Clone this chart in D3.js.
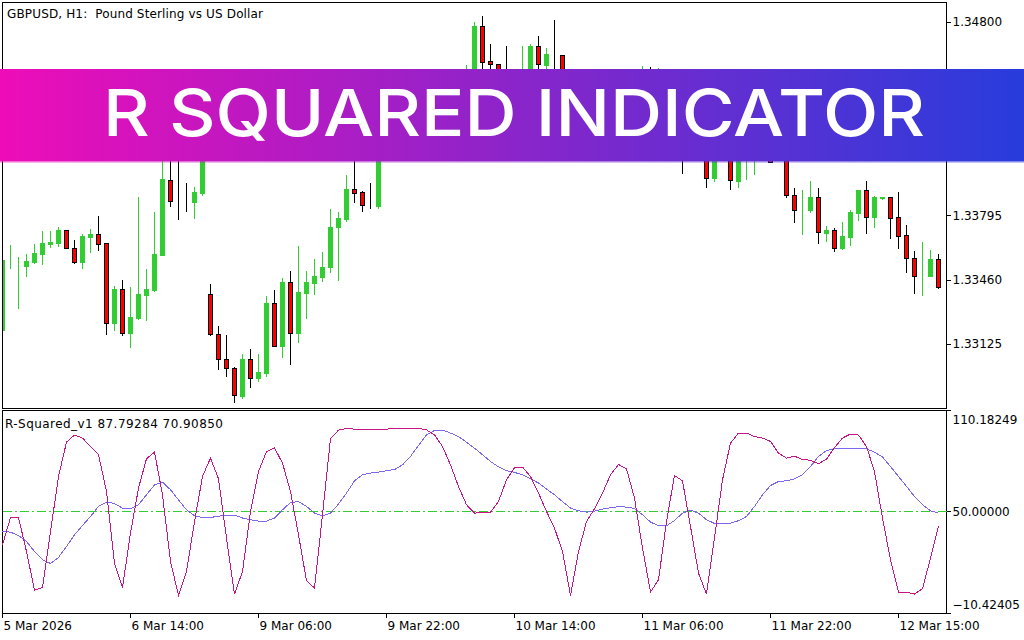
<!DOCTYPE html>
<html>
<head>
<meta charset="utf-8">
<title>R Squared Indicator</title>
<script src="https://cdnjs.cloudflare.com/ajax/libs/d3/7.8.5/d3.min.js"></script>
<style>
	html, body { margin: 0; padding: 0; background: #fff; overflow: hidden; }
	svg { display: block; }
	text { font-family: "DejaVu Sans", sans-serif; font-size: 12px; fill: #000; white-space: pre; }
	.axis path, .axis line { stroke: #000; shape-rendering: crispEdges; }
</style>
</head>
<body>
<svg id="chart" width="1024" height="640"></svg>
<script>
// hourly candles, bars hidden behind the banner are estimated
const opens = [1.33198,1.33557,1.33536,1.33531,1.33552,1.33594,1.33646,1.33651,1.33718,1.33625,1.33552,1.33682,1.33698,1.33651,1.33235,1.33412,1.33183,1.33261,1.33380,1.33406,1.33588,1.33978,1.33869,1.33869,1.33864,1.33911,1.33386,1.33178,1.33048,1.33001,1.32855,1.33048,1.32949,1.32975,1.33339,1.33115,1.33448,1.33183,1.33391,1.33443,1.33474,1.33526,1.33734,1.33776,1.33932,1.33916,1.33848,1.33843,1.34186,1.34290,1.34212,1.34368,1.34301,1.34394,1.34436,1.34342,1.34420,1.34467,1.34394,1.34498,1.34779,1.34597,1.34582,1.34446,1.34394,1.34472,1.34540,1.34675,1.34576,1.34628,1.34628,1.34446,1.34368,1.34420,1.34301,1.34238,1.34332,1.34394,1.34332,1.34415,1.34467,1.34509,1.34436,1.34498,1.34415,1.34301,1.34186,1.34249,1.34316,1.33989,1.34238,1.34134,1.33973,1.34134,1.34134,1.34238,1.34160,1.34093,1.34238,1.33900,1.33828,1.33822,1.33890,1.33703,1.33718,1.33625,1.33682,1.33807,1.33926,1.33786,1.33885,1.33890,1.33786,1.33692,1.33573,1.33484,1.33479,1.33568];
const highs = [1.33562,1.33646,1.33583,1.33599,1.33651,1.33718,1.33718,1.33739,1.33724,1.33672,1.33703,1.33729,1.33796,1.33651,1.33432,1.33464,1.33427,1.33895,1.33521,1.33817,1.34238,1.34134,1.34108,1.33968,1.33947,1.34368,1.33443,1.33224,1.33178,1.33011,1.33079,1.33105,1.33079,1.33380,1.33412,1.33474,1.33510,1.33640,1.33510,1.33573,1.33609,1.33833,1.33817,1.34010,1.34134,1.33926,1.33968,1.34249,1.34342,1.34332,1.34415,1.34405,1.34446,1.34488,1.34472,1.34457,1.34519,1.34509,1.34582,1.34805,1.34836,1.34691,1.34582,1.34680,1.34524,1.34680,1.34691,1.34732,1.34670,1.34816,1.34634,1.34477,1.34457,1.34446,1.34342,1.34374,1.34436,1.34420,1.34457,1.34519,1.34576,1.34571,1.34566,1.34540,1.34446,1.34332,1.34290,1.34353,1.34353,1.34280,1.34264,1.34186,1.34212,1.34264,1.34290,1.34280,1.34212,1.34290,1.34290,1.33942,1.33932,1.33978,1.33942,1.33744,1.33734,1.33765,1.33828,1.33926,1.33978,1.33900,1.33890,1.33890,1.33921,1.33750,1.33614,1.33661,1.33620,1.33599];
const lows = [1.33198,1.33521,1.33313,1.33479,1.33547,1.33542,1.33630,1.33635,1.33625,1.33547,1.33521,1.33604,1.33614,1.33178,1.33198,1.33172,1.33110,1.33256,1.33250,1.33401,1.33588,1.33843,1.33776,1.33817,1.33781,1.33900,1.33172,1.32996,1.32959,1.32824,1.32845,1.32902,1.32933,1.32959,1.33115,1.33058,1.33022,1.33136,1.33261,1.33386,1.33453,1.33500,1.33458,1.33765,1.33864,1.33817,1.33833,1.33833,1.34145,1.34176,1.34186,1.34249,1.34264,1.34353,1.34301,1.34316,1.34374,1.34353,1.34368,1.34457,1.34472,1.34472,1.34394,1.34342,1.34353,1.34436,1.34509,1.34498,1.34457,1.34472,1.34405,1.34332,1.34316,1.34264,1.34186,1.34207,1.34301,1.34290,1.34311,1.34384,1.34436,1.34394,1.34405,1.34374,1.34249,1.34015,1.34145,1.34212,1.33942,1.33973,1.34108,1.33932,1.33942,1.33984,1.34010,1.34093,1.34072,1.34082,1.33890,1.33760,1.33698,1.33812,1.33651,1.33661,1.33609,1.33620,1.33640,1.33770,1.33703,1.33734,1.33880,1.33677,1.33625,1.33500,1.33391,1.33380,1.33479,1.33417];
const closes = [1.33562,1.33558,1.33537,1.33557,1.33599,1.33651,1.33656,1.33718,1.33625,1.33552,1.33687,1.33698,1.33646,1.33235,1.33412,1.33183,1.33266,1.33386,1.33412,1.33594,1.33984,1.33869,1.33868,1.33868,1.33916,1.34290,1.33178,1.33048,1.33001,1.32860,1.33048,1.32949,1.32980,1.33339,1.33115,1.33448,1.33183,1.33396,1.33448,1.33479,1.33526,1.33734,1.33781,1.33932,1.33911,1.33848,1.33847,1.34186,1.34290,1.34212,1.34368,1.34301,1.34394,1.34436,1.34342,1.34420,1.34467,1.34394,1.34498,1.34779,1.34592,1.34582,1.34446,1.34394,1.34472,1.34540,1.34675,1.34582,1.34634,1.34627,1.34446,1.34368,1.34420,1.34301,1.34238,1.34332,1.34394,1.34332,1.34415,1.34467,1.34509,1.34436,1.34498,1.34415,1.34301,1.34186,1.34249,1.34316,1.33989,1.34238,1.34134,1.33978,1.34160,1.34212,1.34238,1.34134,1.34072,1.34238,1.33900,1.33822,1.33829,1.33890,1.33708,1.33718,1.33625,1.33687,1.33812,1.33926,1.33786,1.33890,1.33890,1.33781,1.33687,1.33573,1.33479,1.33485,1.33568,1.33422];

const rSquared = [30.1,46.3,46.3,26.1,3.2,4.7,37.8,70.7,91.1,95.3,93.5,88.5,83.6,61.8,19.2,4.7,37,63.8,81.2,85.2,59.8,20.2,0,14.2,43.9,70.7,81.6,69.3,34.1,0.8,14.2,49.9,73.6,85.5,87.7,78.6,61.8,36,8.7,4.4,47.9,93.1,98.2,99.2,98.8,98.8,98.8,98.8,98.8,99.2,99.2,99.2,99.2,98.4,95.4,88.5,77.6,64.7,53.9,48.9,49.5,49.5,55.8,68.7,75.8,76.3,70.7,60.8,49.9,40,26.1,0,26.1,43.9,51.5,60.8,71.7,77.8,75.2,57.8,28.1,2,9.3,43.9,71.3,68.1,41,13.3,0.8,34.1,68.7,90.5,96.5,96.5,94.4,93.5,91.5,84.6,81.6,82.8,80.6,80.4,78.2,81,87.9,93.5,95.9,95.3,88.5,73.6,46,21.2,2,2,0.8,4,22.2,41];
const signal = [38,37.6,35.6,32.1,26.1,21.2,19,22.6,29.1,36,41.6,46.9,52.9,55.5,54.6,51.9,51.5,53.9,59.8,65.7,67.3,62.8,56.8,50.9,47.3,46.3,46.3,47.1,47.7,47.7,46,45,44.2,44.2,46,50.9,55.2,55.8,52.9,48.9,47.3,48.9,54.3,60.8,68.1,71.7,72.7,73.3,74.1,74.8,77.6,82.6,89.1,95.4,98,98.2,96.5,94.4,91.1,87.5,83.6,79.6,76.4,74.2,73.1,71.7,69.3,66.8,63.2,59.8,55.8,51.9,50.3,49.5,50.1,51.3,52.1,52.7,52.5,51.7,47.9,43.6,41.4,41.4,44.5,48.9,50.7,48.9,45,42.8,42.6,43,44.4,46.9,52.9,59.8,65.3,67.7,68.1,69.3,71.7,76.6,82.6,86.1,87.1,87.1,87.1,87.1,87.1,85.2,82.2,76.6,70.7,64.8,58.8,53.9,50.3,48.9];

const priceTicks = [1.348, 1.34465, 1.3413, 1.33795, 1.3346, 1.33125];
const indicatorTicks = [110.18249, 50, -10.42405];
const timeBars = [0, 16, 32, 48, 64, 80, 96, 112];
const timeLabels = ["5 Mar 2026", "6 Mar 14:00", "9 Mar 06:00", "9 Mar 22:00", "10 Mar 14:00", "11 Mar 06:00", "11 Mar 22:00", "12 Mar 15:00"];

const width = 1024,
	frameLeft = 2.5,
	frameRight = 946.5,
	mainTop = 2.5,
	mainBottom = 408.5,
	subTop = 410.5,
	subBottom = 613.5;

const svg = d3.select("#chart");

const xScale = d3.scaleLinear().domain([0, 117]).range([2.5, 938.5]);
const priceScale = d3.scaleLinear().domain([1.32792, 1.34904]).range([408, 2]);
const indicatorScale = d3.scaleLinear().domain([-10.42405, 110.18249]).range([613, 410]);

const crisp = (v) => Math.round(v) + 0.5;

// clip so the first candle is cut at the frame, like the terminal does
svg.append("defs")
	.append("clipPath")
	.attr("id", "mainClip")
	.append("rect")
	.attr("x", frameLeft)
	.attr("y", mainTop)
	.attr("width", frameRight - frameLeft)
	.attr("height", mainBottom - mainTop);

// candles
const candles = svg.append("g").attr("clip-path", "url(#mainClip)").attr("shape-rendering", "crispEdges");

opens.forEach((open, i) => {
	const close = closes[i];
	const bull = close > open;
	const x = xScale(i);
	const top = crisp(priceScale(Math.max(open, close)));
	const bottom = crisp(priceScale(Math.min(open, close)));
	candles.append("line")
		.attr("x1", x)
		.attr("x2", x)
		.attr("y1", crisp(priceScale(highs[i])))
		.attr("y2", crisp(priceScale(lows[i])))
		.attr("stroke", bull ? "#32cd32" : "#000");
	candles.append("rect")
		.attr("x", x - 2)
		.attr("width", 4)
		.attr("y", top)
		.attr("height", bottom - top)
		.attr("fill", bull ? "#32cd32" : "#ff0000")
		.attr("stroke", bull ? "#32cd32" : "#000");
});

// frames
[[mainTop, mainBottom], [subTop, subBottom]].forEach(([t, b]) => {
	svg.append("rect")
		.attr("x", frameLeft)
		.attr("y", t)
		.attr("width", frameRight - frameLeft)
		.attr("height", b - t)
		.attr("fill", "none")
		.attr("stroke", "#000")
		.attr("shape-rendering", "crispEdges");
});

// price axis
const priceAxis = svg.append("g")
	.attr("class", "axis")
	.attr("transform", "translate(" + frameRight + ",0)")
	.call(d3.axisRight(priceScale).tickValues(priceTicks).tickFormat(d3.format(".5f")).tickSize(4).tickPadding(2));
priceAxis.select(".domain").remove();

// indicator axis, the outer labels stay inside the pane
const indicatorAxis = svg.append("g")
	.attr("class", "axis")
	.attr("transform", "translate(" + frameRight + ",0)")
	.call(d3.axisRight(indicatorScale).tickValues(indicatorTicks).tickFormat(d3.format(".5f")).tickSize(4).tickPadding(2));
indicatorAxis.select(".domain").remove();
indicatorAxis.selectAll(".tick text").attr("dy", (d) => (d > 100 ? "1.15em" : d < 0 ? "-0.35em" : "0.32em"));

// time axis
const timeAxis = svg.append("g")
	.attr("class", "axis")
	.attr("transform", "translate(-0.5," + subBottom + ")")
	.call(d3.axisBottom(xScale).tickValues(timeBars).tickFormat((d, i) => timeLabels[i]).tickSize(4).tickPadding(4));
timeAxis.select(".domain").remove();
timeAxis.selectAll(".tick text").attr("text-anchor", "start").attr("dx", "1");

// level line
svg.append("line")
	.attr("x1", frameLeft)
	.attr("x2", frameRight)
	.attr("y1", crisp(indicatorScale(50)))
	.attr("y2", crisp(indicatorScale(50)))
	.attr("stroke", "#32cd32")
	.attr("stroke-dasharray", "9 3 2 3")
	.attr("shape-rendering", "crispEdges");

// indicator lines
const line = d3.line()
	.x((d, i) => xScale(i))
	.y((d) => indicatorScale(d));

svg.append("path")
	.datum(signal)
	.attr("fill", "none")
	.attr("stroke", "#7b68ee")
	.attr("stroke-width", 1)
	.attr("shape-rendering", "crispEdges")
	.attr("d", line);

svg.append("path")
	.datum(rSquared)
	.attr("fill", "none")
	.attr("stroke", "#c71585")
	.attr("stroke-width", 1)
	.attr("shape-rendering", "crispEdges")
	.attr("d", line);

// pane captions
svg.append("text").attr("x", 7).attr("y", 18).attr("textLength", 256).text("GBPUSD, H1:  Pound Sterling vs US Dollar");
svg.append("text").attr("x", 5).attr("y", 428).attr("textLength", 218).text("R-Squared_v1 87.79284 70.90850");

// banner
const gradient = svg.select("defs")
	.append("linearGradient")
	.attr("id", "bannerFill");
gradient.append("stop").attr("offset", "0%").attr("stop-color", "#ee0db8");
gradient.append("stop").attr("offset", "100%").attr("stop-color", "#283cdc");

svg.append("rect")
	.attr("x", 0)
	.attr("y", 69)
	.attr("width", width)
	.attr("height", 92)
	.attr("fill", "url(#bannerFill)");
svg.append("rect")
	.attr("x", 0)
	.attr("y", 161)
	.attr("width", width)
	.attr("height", 1.5)
	.attr("fill", "url(#bannerFill)")
	.attr("opacity", 0.6);

svg.append("text")
	.attr("x", 103)
	.attr("y", 136)
	.attr("textLength", 822)
	.attr("lengthAdjust", "spacingAndGlyphs")
	.style("font-family", "Inter, 'Noto Sans', sans-serif")
	.style("font-size", "65px")
	.style("font-weight", 500)
	.style("fill", "#fff")
	.text("R SQUARED INDICATOR");
</script>
</body>
</html>
